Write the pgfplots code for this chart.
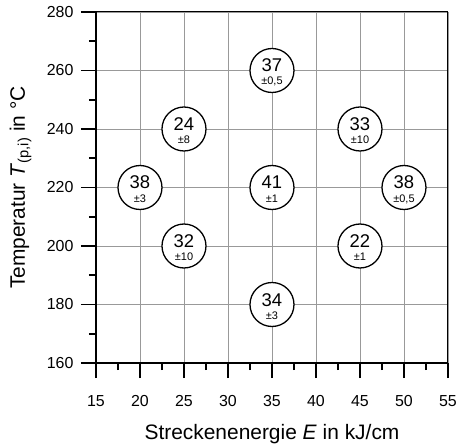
\documentclass[border=0pt]{standalone}
\usepackage{pgfplots}
\pgfplotsset{compat=1.18}
\usepackage{pgfplotstable}
\usepackage{fontspec}
\setmainfont{Liberation Sans}

% Streckenenergie, Temperatur, Wert, Streuung
\pgfplotstableread{
x  y   val err
20 220 38  ±3
25 240 24  ±8
25 200 32  ±10
35 260 37  ±0,5
35 220 41  ±1
35 180 34  ±3
45 240 33  ±10
45 200 22  ±1
50 220 38  ±0,5
}\points

\begin{document}
\begin{tikzpicture}
  \begin{axis}[
      scale only axis,
      width=352bp, height=351bp,
      xmin=15, xmax=55, ymin=160, ymax=280,
      xtick={15,20,...,55}, ytick={160,180,...,280},
      minor x tick num=1, minor y tick num=1,
      axis lines=left,
      axis line style={-, line width=1.8pt},
      tick align=outside,
      major tick length=15bp, minor tick length=7bp,
      every tick/.style={black, line width=1.6pt},
      grid=major,
      grid style={black!40, line width=0.9pt},
      /pgf/number format/assume math mode=true,
      tick label style={font=\fontsize{16}{16}\selectfont},
      xticklabel style={yshift=-14bp},
      yticklabel style={xshift=-4bp},
      xlabel={Streckenenergie \textit{E} in kJ/cm},
      ylabel={Temperatur \textit{T}\textsubscript{(p,i)} in °C},
      label style={font=\fontsize{21}{21}\selectfont},
      xlabel style={at={(axis description cs:0.5,0)}, anchor=base, yshift=-76bp},
      ylabel style={at={(axis description cs:0,0.5)}, anchor=base, yshift=71bp},
    ]
    \addplot[only marks, mark=*, mark size=22bp,
      mark options={fill=white, draw=black, line width=1.3pt},
      nodes near coords, point meta=explicit symbolic,
      every node near coord/.style={anchor=base, yshift=-1.5bp, black,
        font=\fontsize{18.5}{18.5}\selectfont}]
      table[x=x, y=y, meta=val] {\points};
    \addplot[only marks, mark=none,
      nodes near coords, point meta=explicit symbolic,
      every node near coord/.style={anchor=base, yshift=-14.5bp, black,
        font=\fontsize{11}{11}\selectfont}]
      table[x=x, y=y, meta=err] {\points};
    \draw[line width=1pt] (rel axis cs:0,1) -- (rel axis cs:1,1);
    \draw[line width=1.4pt] (rel axis cs:1,1) -- (rel axis cs:1,0);
  \end{axis}
  \pgfresetboundingbox
  \path[use as bounding box] (-96bp,-83bp) rectangle (361bp,363bp);
\end{tikzpicture}
\end{document}
